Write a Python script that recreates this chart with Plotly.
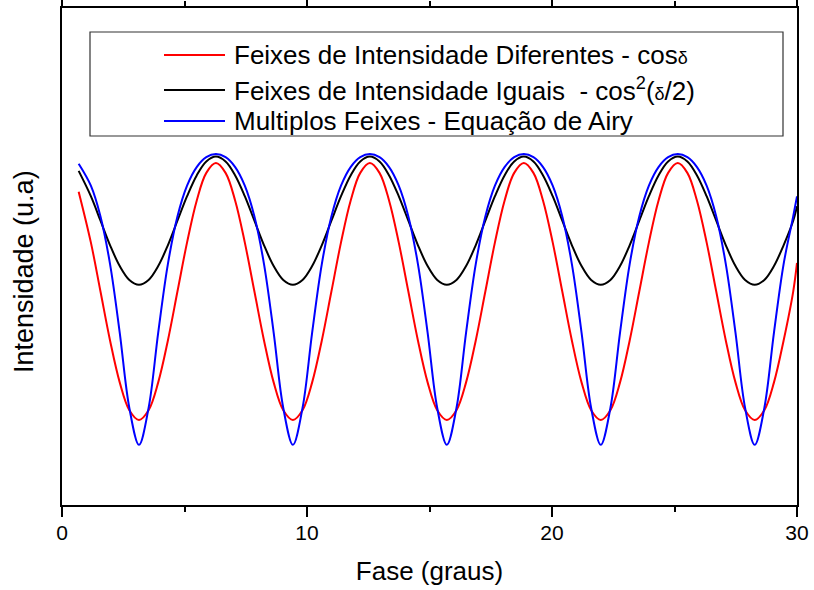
import plotly.graph_objects as go

# Phase values (x axis, "Fase (graus)")
fase = [0.680, 1.178, 1.571, 1.963, 2.356, 2.749, 3.142, 3.534, 3.927, 4.320, 4.712, 5.105, 5.498, 5.890,
        6.283, 6.676, 7.069, 7.461, 7.854, 8.247, 8.639, 9.032, 9.425, 9.817, 10.210, 10.603, 10.996, 11.388, 11.781, 12.174,
        12.566, 12.959, 13.352, 13.744, 14.137, 14.530, 14.923, 15.315, 15.708, 16.101, 16.493, 16.886, 17.279, 17.671, 18.064, 18.457,
        18.850, 19.242, 19.635, 20.028, 20.420, 20.813, 21.206, 21.598, 21.991, 22.384, 22.777, 23.169, 23.562, 23.955, 24.347, 24.740,
        25.133, 25.525, 25.918, 26.311, 26.704, 27.096, 27.489, 27.882, 28.274, 28.667, 29.060, 29.452, 29.845, 30.000]

# Feixes de Intensidade Diferentes (red)
diferentes = [6.305, 5.284, 4.295, 3.306, 2.467, 1.907, 1.710, 1.907, 2.467, 3.306, 4.295, 5.284, 6.123, 6.683,
              6.880, 6.683, 6.123, 5.284, 4.295, 3.306, 2.467, 1.907, 1.710, 1.907, 2.467, 3.306, 4.295, 5.284, 6.123, 6.683,
              6.880, 6.683, 6.123, 5.284, 4.295, 3.306, 2.467, 1.907, 1.710, 1.907, 2.467, 3.306, 4.295, 5.284, 6.123, 6.683,
              6.880, 6.683, 6.123, 5.284, 4.295, 3.306, 2.467, 1.907, 1.710, 1.907, 2.467, 3.306, 4.295, 5.284, 6.123, 6.683,
              6.880, 6.683, 6.123, 5.284, 4.295, 3.306, 2.467, 1.907, 1.710, 1.907, 2.467, 3.306, 4.295, 4.870]

# Feixes de Intensidade Iguais (black)
iguais = [6.723, 6.214, 5.720, 5.226, 4.808, 4.528, 4.430, 4.528, 4.808, 5.226, 5.720, 6.214, 6.632, 6.912,
          7.010, 6.912, 6.632, 6.214, 5.720, 5.226, 4.808, 4.528, 4.430, 4.528, 4.808, 5.226, 5.720, 6.214, 6.632, 6.912,
          7.010, 6.912, 6.632, 6.214, 5.720, 5.226, 4.808, 4.528, 4.430, 4.528, 4.808, 5.226, 5.720, 6.214, 6.632, 6.912,
          7.010, 6.912, 6.632, 6.214, 5.720, 5.226, 4.808, 4.528, 4.430, 4.528, 4.808, 5.226, 5.720, 6.214, 6.632, 6.912,
          7.010, 6.912, 6.632, 6.214, 5.720, 5.226, 4.808, 4.528, 4.430, 4.528, 4.808, 5.226, 5.720, 6.010]

# Multiplos Feixes - Airy (blue)
airy = [6.868, 6.426, 5.807, 4.843, 3.470, 1.952, 1.210, 1.952, 3.470, 4.843, 5.807, 6.426, 6.799, 6.998,
        7.060, 6.998, 6.799, 6.426, 5.807, 4.843, 3.470, 1.952, 1.210, 1.952, 3.470, 4.843, 5.807, 6.426, 6.799, 6.998,
        7.060, 6.998, 6.799, 6.426, 5.807, 4.843, 3.470, 1.952, 1.210, 1.952, 3.470, 4.843, 5.807, 6.426, 6.799, 6.998,
        7.060, 6.998, 6.799, 6.426, 5.807, 4.843, 3.470, 1.952, 1.210, 1.952, 3.470, 4.843, 5.807, 6.426, 6.799, 6.998,
        7.060, 6.998, 6.799, 6.426, 5.807, 4.843, 3.470, 1.952, 1.210, 1.952, 3.470, 4.843, 5.807, 6.210]

x_ticks = [0, 10, 20, 30]

names = ["Feixes de Intensidade Diferentes - cos<span style='font-size:18px'>δ</span>",
         "Feixes de Intensidade Iguais  - cos<sup>2</sup>(<span style='font-size:18px'>δ</span>/2)",
         "Multiplos Feixes - Equação de Airy"]
colors = ["#ff0000", "#000000", "#0000ff"]
series = [diferentes, iguais, airy]

FONT = "Liberation Sans, Arial, sans-serif"

fig = go.Figure()
for name, col, ys in zip(names, colors, series):
    fig.add_trace(go.Scatter(x=fase, y=ys, mode="lines", name=name, showlegend=False,
                             line=dict(color=col, width=2, shape="spline", smoothing=1.0)))

W, H = 814, 590
L, R, T, B = 62, 17, 8, 85
pw, ph = W - L - R, H - T - B

def px(xp):
    return (xp - L) / pw

def py(yp):
    return (H - B - yp) / ph

shapes = [dict(type="rect", xref="paper", yref="paper", x0=px(90), x1=px(783), y0=py(136), y1=py(32),
               line=dict(color="#333333", width=1.2), fillcolor="rgba(0,0,0,0)")]
annotations = []
rows = [55, 90, 121]
for (name, col), yr in zip(zip(names, colors), rows):
    shapes.append(dict(type="line", xref="paper", yref="paper", x0=px(164), x1=px(225), y0=py(yr), y1=py(yr),
                       line=dict(color=col, width=2)))
    annotations.append(dict(xref="paper", yref="paper", x=px(232), y=py(yr), text=name, showarrow=False,
                            xanchor="left", yanchor="middle", font=dict(family=FONT, size=26, color="black")))

annotations.append(dict(xref="paper", yref="paper", x=px(24), y=py(272), text="Intensidade (u.a)", showarrow=False,
                        textangle=-90, xanchor="center", yanchor="middle", font=dict(family=FONT, size=27, color="black")))

fig.update_layout(
    width=W, height=H, margin=dict(l=L, r=R, t=T, b=B, autoexpand=False),
    paper_bgcolor="white", plot_bgcolor="white",
    shapes=shapes, annotations=annotations,
    font=dict(family=FONT, color="black"),
)
fig.update_xaxes(range=[0, 30], tickvals=x_ticks, ticktext=[str(v) for v in x_ticks], automargin=False,
                 title=dict(text="Fase (graus)", font=dict(family=FONT, size=26, color="black"), standoff=19),
                 showgrid=False, zeroline=False, showline=True, linecolor="black", linewidth=2,
                 mirror="ticks", ticks="outside", ticklen=10, tickwidth=2, tickcolor="black",
                 tickfont=dict(family=FONT, size=21, color="black"), ticklabelstandoff=-2,
                 minor=dict(tickvals=[5, 15, 25], ticks="outside", ticklen=5, tickwidth=2, tickcolor="black"))
fig.update_yaxes(range=[0, 10], showticklabels=False, ticks="", showgrid=False, zeroline=False, automargin=False,
                 showline=True, linecolor="black", linewidth=2, mirror=True)

fig.write_html("out.html")
